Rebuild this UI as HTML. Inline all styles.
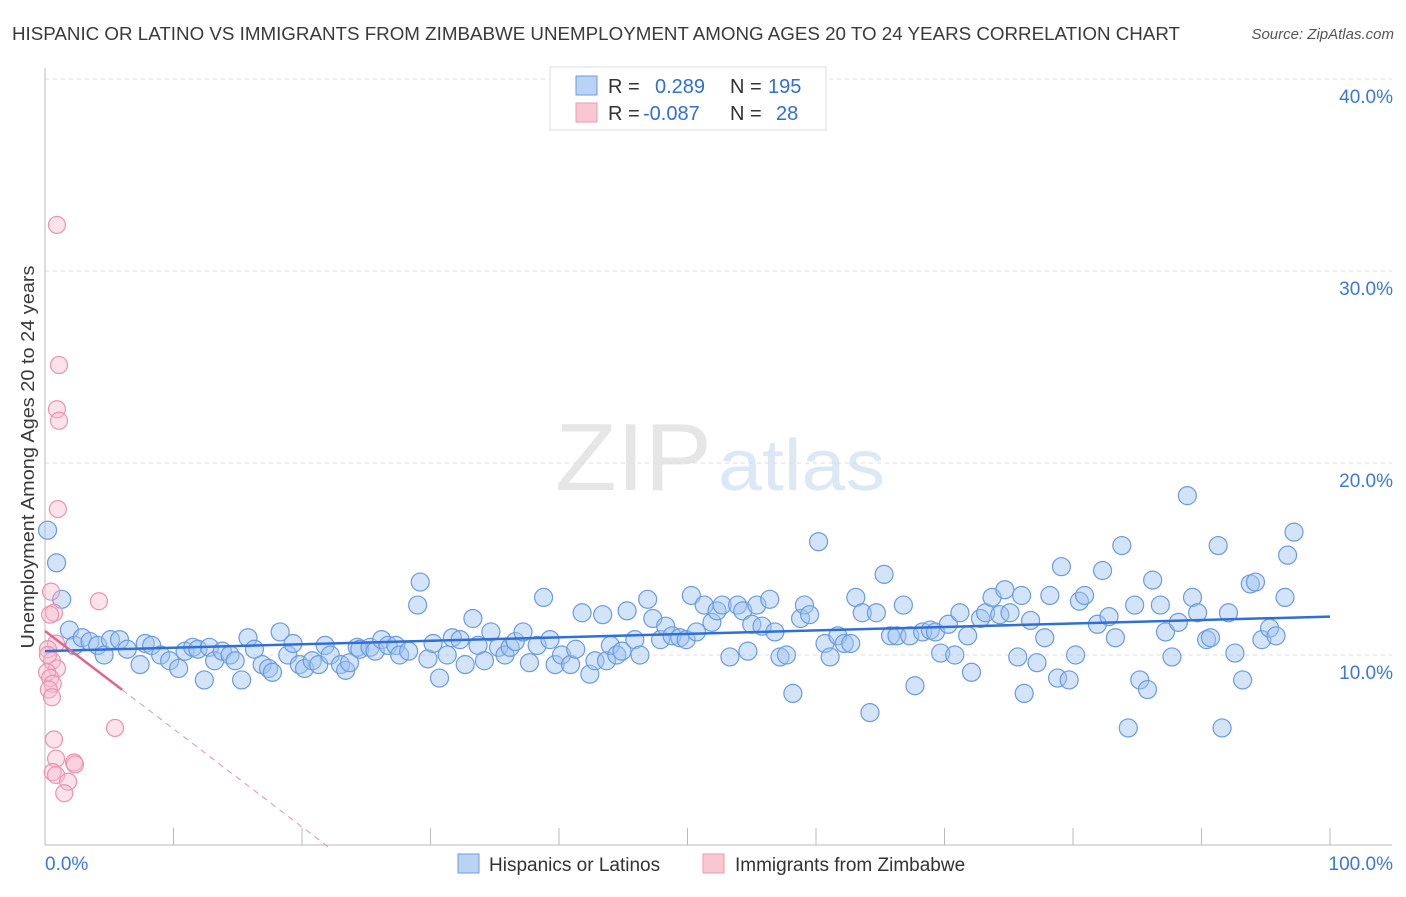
<!DOCTYPE html>
<html><head><meta charset="utf-8"><style>
body{margin:0;background:#fff;font-family:"Liberation Sans",sans-serif;}
svg text{font-family:"Liberation Sans",sans-serif;}
</style></head><body>
<svg id="chart" width="1406" height="892" viewBox="0 0 1406 892">
<text x="12" y="40" font-size="18" fill="#3a3a3a" textLength="1168" lengthAdjust="spacingAndGlyphs">HISPANIC OR LATINO VS IMMIGRANTS FROM ZIMBABWE UNEMPLOYMENT AMONG AGES 20 TO 24 YEARS CORRELATION CHART</text>
<text x="1394" y="39" font-size="15" fill="#555" text-anchor="end" font-style="italic">Source: ZipAtlas.com</text>
<text x="555" y="490" font-size="96" fill="#e6e6e6" textLength="157" lengthAdjust="spacingAndGlyphs" font-family="Liberation Serif">ZIP</text>
<text x="718" y="490" font-size="72" fill="#dde8f7" textLength="167" lengthAdjust="spacingAndGlyphs">atlas</text>
<g id="grid"></g>
<g id="axes"></g>
<g id="pts"></g>
<g id="trend"></g>
<text transform="translate(34,457) rotate(-90)" font-size="18" fill="#3a3a3a" text-anchor="middle" textLength="383" lengthAdjust="spacingAndGlyphs">Unemployment Among Ages 20 to 24 years</text>
<g>
<rect x="550" y="67" width="276" height="63" fill="#fff" stroke="#ddd"/>
<rect x="576" y="76" width="21" height="19" fill="#b9d3f5" stroke="#6a9de0"/>
<rect x="576" y="103" width="21" height="19" fill="#f9c6d4" stroke="#ec9ab2"/>
<text x="608" y="93" font-size="20" fill="#333">R =</text>
<text x="655" y="93" font-size="20" fill="#2f6fd6">0.289</text>
<text x="730" y="93" font-size="20" fill="#333">N =</text>
<text x="768" y="93" font-size="20" fill="#2f6fd6">195</text>
<text x="608" y="120" font-size="20" fill="#333">R =</text>
<text x="643" y="120" font-size="20" fill="#2f6fd6">-0.087</text>
<text x="730" y="120" font-size="20" fill="#333">N =</text>
<text x="776" y="120" font-size="20" fill="#2f6fd6">28</text>
</g>
<g>
<rect x="458" y="854" width="21" height="19" fill="#b9d3f5" stroke="#6a9de0"/>
<text x="489" y="871" font-size="19" fill="#333">Hispanics or Latinos</text>
<rect x="703" y="854" width="21" height="19" fill="#f9c6d4" stroke="#ec9ab2"/>
<text x="735" y="871" font-size="19" fill="#333">Immigrants from Zimbabwe</text>
</g>
</svg>
<script>
const blueX=[0.2,0.9,1.3,1.9,2.3,2.9,3.5,4.1,4.6,5.1,5.8,6.4,7.4,7.8,8.3,9.0,9.7,10.4,10.9,11.5,11.9,12.4,12.8,13.2,13.8,14.4,14.8,15.3,15.8,16.3,16.9,17.4,17.7,18.3,18.9,19.3,19.8,20.2,20.8,21.3,21.8,22.2,23.0,23.4,23.7,24.3,24.5,25.3,25.7,26.2,26.7,27.3,27.6,28.3,29.0,29.2,29.8,30.2,30.7,31.3,31.7,32.3,32.7,33.3,33.7,34.2,34.7,35.3,35.8,36.2,36.6,37.2,37.7,38.3,38.8,39.3,39.7,40.2,40.9,41.3,41.8,42.4,42.8,43.4,43.7,44.0,44.5,44.9,45.3,45.9,46.3,46.9,47.3,47.9,48.3,48.8,49.4,49.9,50.3,50.7,51.3,51.9,52.3,52.7,53.3,53.9,54.3,54.7,55.0,55.4,55.8,56.4,56.8,57.2,57.7,58.2,58.8,59.1,59.5,60.2,60.7,61.1,61.7,62.2,62.7,63.1,63.6,64.2,64.7,65.3,65.8,66.3,66.8,67.3,67.7,68.3,68.9,69.3,69.7,70.3,70.8,71.2,71.8,72.1,72.8,73.2,73.7,74.3,74.7,75.1,75.7,76.0,76.2,76.7,77.2,77.8,78.2,78.8,79.1,79.7,80.2,80.5,80.9,81.9,82.3,82.8,83.3,83.8,84.3,84.8,85.2,85.8,86.2,86.8,87.2,87.7,88.2,88.9,89.3,89.7,90.4,90.7,91.3,91.6,92.1,92.6,93.2,93.8,94.2,94.7,95.3,95.8,96.5,96.7,97.2];
const blueY=[16.5,14.8,12.9,11.3,10.5,10.9,10.7,10.5,10.0,10.8,10.8,10.3,9.5,10.6,10.5,10.0,9.7,9.3,10.2,10.4,10.3,8.7,10.4,9.7,10.2,10.0,9.7,8.7,10.9,10.3,9.5,9.3,9.1,11.2,10.0,10.6,9.5,9.3,9.7,9.5,10.5,10.0,9.5,9.2,9.6,10.4,10.3,10.4,10.2,10.8,10.5,10.5,10.0,10.2,12.6,13.8,9.8,10.6,8.8,10.0,10.9,10.8,9.5,11.9,10.5,9.7,11.2,10.4,10.0,10.4,10.7,11.2,9.6,10.5,13.0,10.8,9.5,10.0,9.5,10.3,12.2,9.0,9.7,12.1,9.7,10.5,10.0,10.2,12.3,10.8,10.0,12.9,11.9,10.8,11.5,11.0,10.9,10.8,13.1,11.2,12.6,11.7,12.3,12.6,9.9,12.6,12.3,10.2,11.6,12.6,11.5,12.9,11.2,9.9,10.0,8.0,11.9,12.6,12.1,15.9,10.6,9.9,11.0,10.6,10.6,13.0,12.2,7.0,12.2,14.2,11.0,11.0,12.6,11.0,8.4,11.2,11.3,11.2,10.1,11.6,10.0,12.2,11.0,9.1,11.9,12.2,13.0,12.1,13.4,12.2,9.9,13.1,8.0,11.8,9.6,10.9,13.1,8.8,14.6,8.7,10.0,12.8,13.1,11.6,14.4,12.0,10.9,15.7,6.2,12.6,8.7,8.2,13.9,12.6,11.2,9.9,11.7,18.3,13.0,12.2,10.8,10.9,15.7,6.2,12.2,10.1,8.7,13.7,13.8,10.8,11.4,11.0,13.0,15.2,16.4];
const pinkX=[0.93,1.09,0.93,1.09,1.0,0.47,4.2,0.7,0.4,0.86,0.23,0.54,0.93,0.16,0.4,0.6,0.3,0.54,5.45,0.7,0.86,2.26,2.33,0.6,0.86,1.8,1.5,0.23];
const pinkY=[32.4,25.1,22.8,22.2,17.6,13.3,12.8,12.2,12.1,10.6,10.3,9.7,9.3,9.1,8.8,8.5,8.2,7.8,6.2,5.6,4.6,4.4,4.3,3.9,3.75,3.4,2.8,10.0];
const yTicks=[10,20,30,40];
const xTicks=[0,10,20,30,40,50,60,70,80,90,100];
const blueTrend=[10.2,12.0];
const pinkTrend=[11.25,-0.51];

const X0=45,X1=1330,Y0=847,PY=19.2;
const sx=v=>X0+(X1-X0)*v/100;
const sy=v=>Y0-v*PY;
const NS="http://www.w3.org/2000/svg";
function mk(tag,parent,attrs){const e=document.createElementNS(NS,tag);for(const k in attrs)e.setAttribute(k,attrs[k]);document.getElementById(parent).appendChild(e);return e;}

yTicks.forEach(t=>{
  const g=mk('line','grid',{x1:45,x2:1392,y1:sy(t),y2:sy(t),stroke:'#ddd','stroke-dasharray':'4,4'});
  
  
  const l=mk('text','grid',{x:1393,y:sy(t)+24,'font-size':19,fill:'#3b78d8','text-anchor':'end'});
  l.textContent=t.toFixed(1)+'%';
  
  
});
const ax=mk('line','axes',{x1:45,x2:45,y1:68,y2:845,stroke:'#bbb'});


const bx=mk('line','axes',{x1:45,x2:1392,y1:845,y2:845,stroke:'#bbb'});


xTicks.forEach(t=>{
  const k=mk('line','axes',{x1:sx(t),x2:sx(t),y1:828,y2:845,stroke:'#bbb'});
  
  
});
[[0,'0.0%','start',45],[100,'100.0%','end',1393]].forEach(a=>{
  const l=mk('text','axes',{x:a[3],y:870,'font-size':19,fill:'#3b78d8','text-anchor':a[2]});
  l.textContent=a[1];
  
  
});
blueX.forEach((x,i)=>{
  const c=mk('circle','pts',{cx:sx(x),cy:sy(blueY[i]),r:9,fill:'rgba(160,196,240,0.45)',stroke:'#6a9be0','stroke-width':1.2});
  
  
});
pinkX.forEach((x,i)=>{
  const c=mk('circle','pts',{cx:sx(x),cy:sy(pinkY[i]),r:8.5,fill:'rgba(248,185,205,0.4)',stroke:'#e993ad','stroke-width':1.2});
  
  
});
const bt=mk('line','trend',{x1:sx(0),y1:sy(blueTrend[0]),x2:sx(100),y2:sy(blueTrend[1]),stroke:'#2f6fd6','stroke-width':2.5});


const pe=6, pz=-pinkTrend[0]/pinkTrend[1];
const pt=mk('line','trend',{x1:sx(0),y1:sy(pinkTrend[0]),x2:sx(pe),y2:sy(pinkTrend[0]+pinkTrend[1]*pe),stroke:'#e0668c','stroke-width':2.5});


const pd=mk('line','trend',{x1:sx(pe),y1:sy(pinkTrend[0]+pinkTrend[1]*pe),x2:sx(pz),y2:sy(0),stroke:'#e890aa','stroke-width':1,'stroke-dasharray':'6,5'});


</script>
</body></html>
